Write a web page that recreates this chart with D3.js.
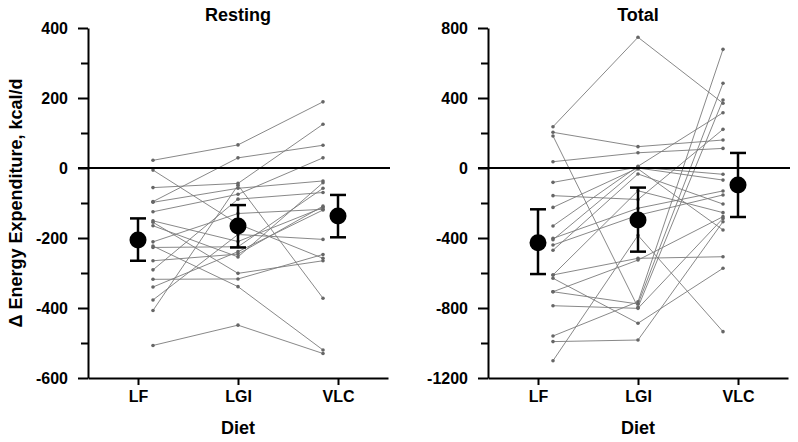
<!DOCTYPE html>
<html><head><meta charset="utf-8">
<script src="https://cdn.jsdelivr.net/npm/d3@7"></script>
<style>body{margin:0;background:#fff}svg{display:block;font-family:"Liberation Sans",Arial,sans-serif}</style>
</head><body><svg id="c" width="798" height="442"></svg>
<script>
const diets = ["LF","LGI","VLC"];
// Resting: individual subjects [LF, LGI, VLC]
const restLF  = [22,-6,-56,-96,-98,-125,-151,-155,-165,-211,-223,-227,-265,-291,-318,-340,-377,-407,-507];
const restLGI = [66,-160,-44,29,-58,-75,-210,-301,-254,-130,-339,-225,-246,-89,-317,-239,-190,-49,-449];
const restVLC = [189,-258,125,65,-37,29,-113,-265,-42,-118,-520,-58,-109,-70,-247,-120,-204,-372,-530];
const restMean = [-206,-166,-137];
const restLow  = [-265,-227,-198];
const restHigh = [-144,-106,-77];
// Total
const totLF  = [236,204,183,36,-82,-158,-225,-331,-402,-410,-440,-470,-611,-611,-630,-707,-707,-787,-960,-992,-1101];
const totLGI = [747,122,-796,87,5,-180,0,10,-230,-5,-270,-34,-516,-130,-887,-777,-526,-802,-764,-983,-385];
const totVLC = [370,160,389,112,-36,221,-69,316,-131,-354,-154,-206,-507,-255,-573,484,-278,-288,678,-307,-935];
const totMean = [-427,-297,-97];
const totLow  = [-606,-478,-280];
const totHigh = [-236,-112,86];
const restMajor = [-600,-400,-200,0,200,400];
const restMinor = [-500,-300,-100,100,300];
const totMajor = [-1200,-800,-400,0,400,800];
const totMinor = [-1000,-600,-200,200,600];

const svg = d3.select("#c");
const plotTop = 28, plotBottom = 378, pw = 300;
const FF = "Liberation Sans, Arial, sans-serif";

function panel(x0, title, lf, lgi, vlc, mean, lo, hi, major, minor){
  const g = svg.append("g").attr("transform", `translate(${x0},0)`);
  const x = d3.scalePoint().domain(diets).range([0,pw]).padding(0.5);
  const y = d3.scaleLinear().domain([major[0], major[major.length-1]]).range([plotBottom, plotTop]);
  const off = {LF:15, LGI:0, VLC:-15};
  const px = d => x(d) + off[d];
  const subj = lf.map((v,i)=>[[ "LF", v],["LGI", lgi[i]],["VLC", vlc[i]]]);
  const line = d3.line().x(d=>px(d[0])).y(d=>y(d[1]));
  g.append("g").selectAll("path").data(subj).join("path")
    .attr("d", line).attr("fill","none").attr("stroke","#7a7a7a").attr("stroke-width",0.9);
  g.append("g").selectAll("circle").data(subj.flat()).join("circle")
    .attr("cx", d=>px(d[0])).attr("cy", d=>y(d[1])).attr("r",1.8)
    .attr("fill","#666");
  g.append("line").attr("x1",-10).attr("x2",pw+2).attr("y1",y(0)).attr("y2",y(0))
    .attr("stroke","#000").attr("stroke-width",2);
  const ya = g.append("g").call(d3.axisLeft(y).tickValues(major).tickSize(10).tickSizeOuter(0).tickPadding(10).tickFormat(d=>String(d)));
  ya.select(".domain").attr("stroke-width",2);
  ya.selectAll(".tick line").attr("stroke-width",2);
  ya.selectAll("text").attr("font-size",16).attr("font-weight","bold").attr("font-family",FF).attr("fill","#000");
  const ym = g.append("g").call(d3.axisLeft(y).tickValues(minor).tickSize(7).tickFormat(""));
  ym.select(".domain").remove();
  ym.selectAll(".tick line").attr("stroke-width",2);
  const xa = g.append("g").attr("transform",`translate(0,${plotBottom})`)
    .call(d3.axisBottom(x).tickSize(7).tickSizeOuter(0).tickPadding(6));
  xa.select(".domain").attr("stroke-width",2);
  xa.selectAll(".tick line").attr("stroke-width",2);
  xa.selectAll("text").attr("font-size",16).attr("font-weight","bold").attr("font-family",FF).attr("fill","#000");
  const md = diets.map((d,i)=>({d, m:mean[i], lo:lo[i], hi:hi[i]}));
  const eg = g.append("g").selectAll("g").data(md).join("g");
  eg.append("line").attr("x1",d=>x(d.d)).attr("x2",d=>x(d.d)).attr("y1",d=>y(d.lo)).attr("y2",d=>y(d.hi))
    .attr("stroke","#000").attr("stroke-width",2.5);
  eg.append("line").attr("x1",d=>x(d.d)-8).attr("x2",d=>x(d.d)+8).attr("y1",d=>y(d.lo)).attr("y2",d=>y(d.lo))
    .attr("stroke","#000").attr("stroke-width",2.5);
  eg.append("line").attr("x1",d=>x(d.d)-8).attr("x2",d=>x(d.d)+8).attr("y1",d=>y(d.hi)).attr("y2",d=>y(d.hi))
    .attr("stroke","#000").attr("stroke-width",2.5);
  eg.append("circle").attr("cx",d=>x(d.d)).attr("cy",d=>y(d.m)).attr("r",8.5).attr("fill","#000");
  g.append("text").attr("x",x("LGI")).attr("y",21).attr("text-anchor","middle")
    .attr("font-size",18).attr("font-weight","bold").text(title);
  g.append("text").attr("x",x("LGI")).attr("y",434).attr("text-anchor","middle")
    .attr("font-size",18).attr("font-weight","bold").text("Diet");
}
panel(88, "Resting", restLF, restLGI, restVLC, restMean, restLow, restHigh, restMajor, restMinor);
panel(488, "Total", totLF, totLGI, totVLC, totMean, totLow, totHigh, totMajor, totMinor);
svg.append("text").attr("transform","translate(22,203) rotate(-90)").attr("text-anchor","middle")
  .attr("font-size",18).attr("font-weight","bold").text("Δ Energy Expenditure, kcal/d");
</script></body></html>
